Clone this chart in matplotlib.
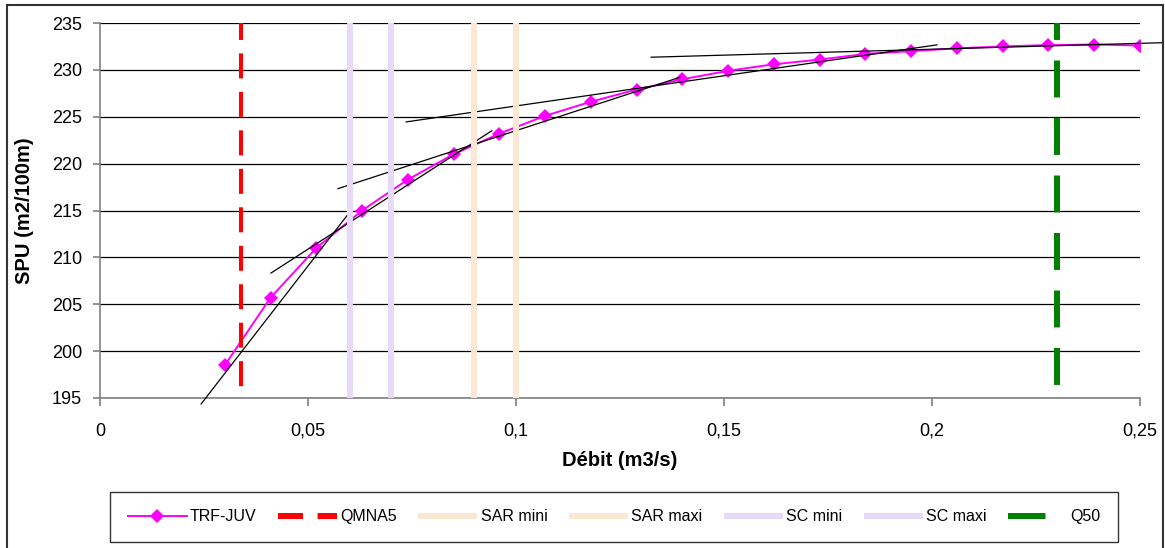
import matplotlib
matplotlib.use("Agg")
import matplotlib.pyplot as plt
from matplotlib.lines import Line2D
from matplotlib.patches import Rectangle
from matplotlib.ticker import FuncFormatter, MultipleLocator

plt.rcParams['font.family'] = ['Liberation Sans', 'DejaVu Sans']
plt.rcParams['lines.scale_dashes'] = False

# Habitat curve: weighted usable area versus discharge
flow = [0.030, 0.041, 0.052, 0.063, 0.074, 0.085, 0.096, 0.107, 0.118, 0.129, 0.140,
        0.151, 0.162, 0.173, 0.184, 0.195, 0.206, 0.217, 0.228, 0.239, 0.250]
spu = [198.5, 205.7, 211.0, 215.0, 218.3, 221.0, 223.2, 225.1, 226.6, 227.9, 229.0,
       229.9, 230.6, 231.1, 231.7, 232.0, 232.3, 232.5, 232.65, 232.7, 232.6]

# Tangent segments along the curve (start/end flow, start/end SPU)
tangent_x = [(0.0243, 0.0606), (0.0411, 0.0942), (0.0572, 0.1394),
             (0.0736, 0.2012), (0.1325, 0.2555)]
tangent_y = [(194.36, 215.16), (208.33, 223.51), (217.33, 229.21),
             (224.45, 232.67), (231.35, 232.90)]

# Reference discharges
ref_names = ["QMNA5", "SAR mini", "SAR maxi", "SC mini", "SC maxi", "Q50"]
ref_flows = [0.034, 0.090, 0.100, 0.060, 0.070, 0.230]

y_min, y_max = 195, 235
x_max = 0.25

W, H = 1165, 548
fig = plt.figure(figsize=(W / 100, H / 100), dpi=100)
ax = fig.add_axes([100 / W, 1 - 398 / H, 1040 / W, 375 / H])

ax.set_xlim(0, x_max)
ax.set_ylim(y_min, y_max)
ax.xaxis.set_major_locator(MultipleLocator(0.05))
ax.yaxis.set_major_locator(MultipleLocator(5))
ax.xaxis.set_major_formatter(FuncFormatter(lambda v, p: ('%g' % round(v, 4)).replace('.', ',')))
ax.yaxis.grid(True, color='black', linewidth=0.9)
ax.set_axisbelow(True)

for side in ('top', 'right'):
    ax.spines[side].set_visible(False)
for side in ('left', 'bottom'):
    ax.spines[side].set_color('#808080')
    ax.spines[side].set_linewidth(1.2)

ax.tick_params(axis='y', length=5, width=1.2, color='#808080', pad=8, labelsize=13)
ax.tick_params(axis='x', length=6, width=1.2, color='#808080', pad=12, labelsize=13)

ax.set_xlabel('Débit (m3/s)', fontsize=14.5, fontweight='bold', va='center')
ax.xaxis.set_label_coords(0.5, (398 - 461) / 375)
ax.set_ylabel('SPU (m2/100m)', fontsize=14.5, fontweight='bold', va='center')
ax.yaxis.set_label_coords((25 - 100) / 1040, 0.5)

# Data curve
curve, = ax.plot(flow, spu, color='#FF00FF', linewidth=1.4, marker='D',
                 markersize=7, markeredgewidth=0, zorder=3, label='TRF-JUV')

# Tangents
for tx, ty in zip(tangent_x, tangent_y):
    ax.plot(tx, ty, color='black', linewidth=0.9, zorder=4, clip_on=False)

# Reference vertical lines
styles = {
    "QMNA5": dict(color='#FF0000', linewidth=2.9, linestyle=(5.8, (18, 9.7))),
    "SAR mini": dict(color='#FCE6D4', linewidth=4.3, linestyle='-'),
    "SAR maxi": dict(color='#FCE6D4', linewidth=4.3, linestyle='-'),
    "SC mini": dict(color='#E6DAF8', linewidth=4.3, linestyle='-'),
    "SC maxi": dict(color='#E6DAF8', linewidth=4.3, linestyle='-'),
    "Q50": dict(color='#008000', linewidth=4.3, linestyle=(14.4, (26.6, 14.8))),
}
for name, q in zip(ref_names, ref_flows):
    ax.plot([q, q], [y_max, y_min], solid_capstyle='butt', dash_capstyle='butt',
            zorder=5, **styles[name])

# Legend keys
legend_styles = {
    "QMNA5": dict(color='#FF0000', linewidth=4.3, linestyle=(0, (18, 10.5))),
    "SAR mini": dict(color='#FCE6D4', linewidth=4.3, linestyle='-'),
    "SAR maxi": dict(color='#FCE6D4', linewidth=4.3, linestyle='-'),
    "SC mini": dict(color='#E6DAF8', linewidth=4.3, linestyle='-'),
    "SC maxi": dict(color='#E6DAF8', linewidth=4.3, linestyle='-'),
    "Q50": dict(color='#008000', linewidth=4.3, linestyle=(0, (27, 100))),
}
handles = [curve] + [Line2D([], [], solid_capstyle='butt', dash_capstyle='butt',
                            **legend_styles[n]) for n in ref_names]
labels = ['TRF-JUV'] + ref_names

leg = fig.legend(handles, labels, loc='lower left',
                 bbox_to_anchor=(110 / W, 1 - 542 / H, 1008 / W, 64 / H),
                 mode='expand', ncol=7, fontsize=11.5, frameon=True, fancybox=False,
                 edgecolor='black', borderaxespad=0, handlelength=3.7,
                 handletextpad=0.2, columnspacing=1.0, borderpad=1.1)
leg.get_frame().set_linewidth(1.0)

# Outer chart border
fig.add_artist(Rectangle((7 / W, -0.05), (1163 - 7) / W, 1.05 - 5 / H,
                         transform=fig.transFigure, fill=False,
                         edgecolor='#333333', linewidth=1.5, clip_on=False))

fig.savefig('out.png', dpi=100)
